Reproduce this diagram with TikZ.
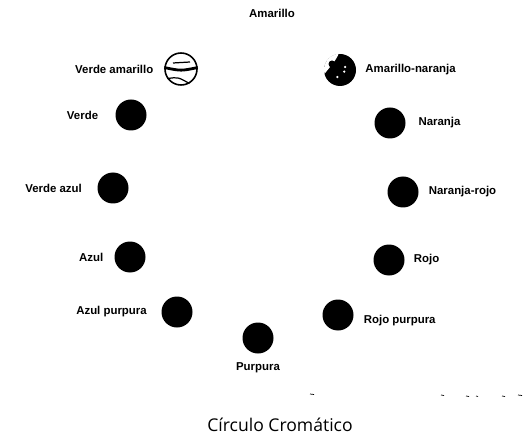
\documentclass[tikz,border=0pt]{standalone}
\usepackage{fontspec}
\setsansfont{Liberation Sans}
\newfontfamily\titlefont{Open Sans}
\usetikzlibrary{positioning}

\begin{document}
\begin{tikzpicture}[x=0.2mm, y=-0.2mm,
    dot/.style={circle, fill=black, minimum size=6.2mm, inner sep=0pt},
    lbl/.style={font=\sffamily\bfseries\fontsize{6.5}{7}\selectfont, inner sep=0pt}]
    \useasboundingbox (0,0) rectangle (525,444);
    % left half of the wheel
    \node[dot, minimum size=6.4mm, fill=white, draw, line width=0.9pt] (verdeam) at (181,69) {};
    \node[dot] (verde) at (131,115) {};
    \node[dot] (verdeaz) at (113,188) {};
    \node[dot] (azul) at (130,257) {};
    \node[dot] (azulpu) at (177,312) {};
    % right half of the wheel
    \node[dot, minimum size=6.4mm] (amnar) at (340,70) {};
    \node[dot] (naranja) at (390,123) {};
    \node[dot] (narrojo) at (403,192) {};
    \node[dot] (rojo) at (389,260) {};
    \node[dot] (rojopu) at (338,315) {};
    \node[dot] (purpura) at (258,338) {};
    % sketchy marks on the two top discs
    \draw[line width=1.6pt] (verdeam.175) .. controls ([yshift=-0.4mm]verdeam.center) .. (verdeam.5);
    \draw[line width=0.7pt] ([xshift=-1.6mm,yshift=1.2mm]verdeam.center) -- ([xshift=1.8mm,yshift=1.4mm]verdeam.center);
    \draw[line width=0.7pt] (verdeam.215) .. controls ([xshift=-0.6mm,yshift=-1.6mm]verdeam.center) .. (verdeam.300);
    \fill[white] (amnar.95) arc[start angle=95, end angle=195, radius=3.2mm]
        .. controls ([xshift=-2mm,yshift=0.6mm]amnar.center) and ([xshift=-0.6mm,yshift=2.2mm]amnar.center) .. (amnar.95);
    \fill[black] ([xshift=-1.6mm,yshift=1.2mm]amnar.center) circle (0.7mm);
    \foreach \a/\r in {30/1.2,-20/0.9,250/1.5}
        \fill[white] ([shift={(\a:\r mm)}]amnar.center) circle (0.25mm);
    % labels
    \node[lbl] (amarillo) at (272,13) {Amarillo};
    \node[lbl, left=6pt of verdeam] (lverdeam) {Verde amarillo};
    \node[lbl, left=9.5pt of verde] (lverde) {Verde};
    \node[lbl, left=8.5pt of verdeaz] (lverdeaz) {Verde azul};
    \node[lbl, left=6pt of azul] (lazul) {Azul};
    \node[lbl, left=8pt of azulpu] (lazulpu) {Azul purpura};
    \node[lbl, right=5pt of amnar] (lamnar) {Amarillo-naranja};
    \node[lbl, right=7pt of naranja] (lnaranja) {Naranja};
    \node[lbl, right=5.5pt of narrojo] (lnarrojo) {Naranja-rojo};
    \node[lbl, right=5pt of rojo] (lrojo) {Rojo};
    \node[lbl, right=5.5pt of rojopu, yshift=-3pt] (lrojopu) {Rojo purpura};
    \node[lbl, below=5pt of purpura] (lpurpura) {Purpura};
    % stray marks of the scan
    \foreach \x/\y/\l in {310/394/4,441/395/3,466/396/3,476/396/2,502/396/3,518/395/4}
        \draw[thin] (\x,\y) -- ++(\l,0.5);
    \node[font=\titlefont\fontsize{10}{12}\selectfont] (titulo) at (280,425) {Círculo Cromático};
\end{tikzpicture}
\end{document}
